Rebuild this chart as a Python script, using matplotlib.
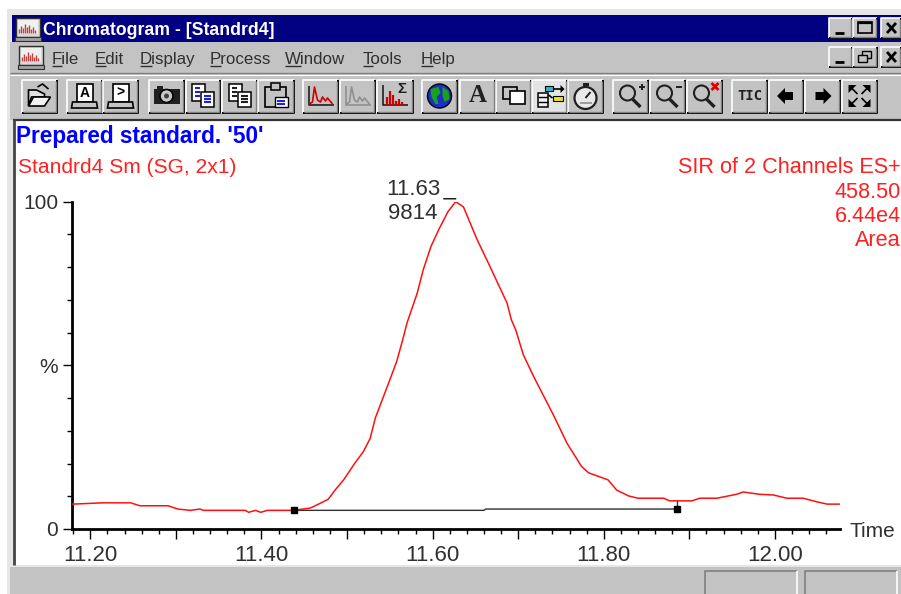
import matplotlib
matplotlib.use('Agg')
import matplotlib.pyplot as plt
from matplotlib.patches import Rectangle, Polygon, Circle

plt.rcParams['font.family'] = ['Liberation Sans', 'DejaVu Sans']

# peak trace
times = [11.179, 11.215, 11.247, 11.258, 11.291, 11.302, 11.317, 11.328, 11.332, 11.381,
         11.385, 11.393, 11.399, 11.407, 11.437, 11.457, 11.469, 11.478, 11.486, 11.496,
         11.509, 11.519, 11.527, 11.533, 11.541, 11.550, 11.558, 11.565, 11.570, 11.582,
         11.589, 11.598, 11.607, 11.618, 11.627, 11.636, 11.652, 11.665, 11.687, 11.692,
         11.697, 11.706, 11.718, 11.741, 11.757, 11.774, 11.782, 11.805, 11.815, 11.829,
         11.840, 11.870, 11.877, 11.903, 11.912, 11.932, 11.955, 11.963, 11.982, 11.998,
         12.014, 12.033, 12.049, 12.061, 12.075]
percent = [7.6, 8.0, 8.0, 7.1, 7.1, 6.1, 5.7, 6.1, 5.7, 5.7,
           5.1, 5.7, 5.1, 5.7, 5.7, 6.4, 7.9, 9.1, 11.9, 15.0,
           20.1, 23.6, 27.7, 33.9, 39.4, 45.6, 51.2, 57.8, 62.9, 72.1,
           79.2, 86.3, 91.4, 97.0, 100.0, 98.4, 88.4, 81.3, 69.0, 63.9,
           60.9, 53.2, 46.6, 34.9, 26.2, 19.1, 17.2, 15.0, 11.9, 10.1,
           9.4, 9.4, 8.6, 8.6, 9.4, 9.4, 10.6, 11.3, 10.6, 10.4,
           9.4, 9.4, 8.3, 7.6, 7.6]
base_t = [11.438, 11.660, 11.662, 11.885]
base_p = [5.7, 5.7, 6.1, 6.1]
marker_t = [11.438, 11.885]
marker_p = [5.7, 6.1]
x_major = [11.2, 11.3, 11.4, 11.5, 11.6, 11.7, 11.8, 11.9, 12.0]
x_labels = ['11.20', '', '11.40', '', '11.60', '', '11.80', '', '12.00']
x_minor = [11.18 + 0.02 * i for i in range(45)]
y_major = [0, 50, 100]
y_labels = ['0', '%', '100']
y_minor = [10, 20, 30, 40, 60, 70, 80, 90]
menu_names = ['File', 'Edit', 'Display', 'Process', 'Window', 'Tools', 'Help']
menu_x = [52, 95, 140, 210, 285, 363, 421]
right_labels = ['SIR of 2 Channels ES+', '458.50', '6.44e4', 'Area']
right_y = [173, 198, 222, 246]

GRAY = '#c3c3c3'
fig = plt.figure(figsize=(9.01, 5.94), dpi=100)
bg = fig.add_axes([0, 0, 1, 1])
bg.set_xlim(0, 901)
bg.set_ylim(594, 0)
bg.axis('off')


def rect(x0, y0, x1, y1, fc='none', ec='none', lw=0, z=2):
    bg.add_patch(Rectangle((x0, y0), x1 - x0, y1 - y0, fc=fc, ec=ec, lw=lw, zorder=z))


def line(xs, ys, c='black', lw=1.0, z=3):
    bg.plot(xs, ys, color=c, lw=lw, zorder=z, solid_capstyle='butt')


def poly(pts, fc='black', ec='none', lw=0, z=3):
    bg.add_patch(Polygon(pts, closed=True, fc=fc, ec=ec, lw=lw, zorder=z))


def button(x0, y0, x1, y1, pressed=False):
    rect(x0, y0, x1, y1, fc='#e4e4e4' if pressed else GRAY)
    line([x0, x0, x1], [y1, y0, y0], 'white', 1.2)
    line([x0, x1, x1], [y1, y1, y0], 'black', 1.4)
    line([x0 + 1, x1 - 1, x1 - 1], [y1 - 1, y1 - 1, y0 + 1], '#808080', 1.0)


# window frame
rect(7, 9, 901, 594, fc='#e6e6e6', z=1)
rect(10, 42, 901, 120, fc=GRAY, z=1)
rect(12, 15, 901, 42, fc='#000080', z=2)
line([10, 901], [73, 73], '#808080', 1.0)
line([10, 901], [74.5, 74.5], 'white', 0.8)
rect(15, 120, 901, 565, fc='white', z=1)
line([13, 901], [119.5, 119.5], '#333333', 1.6)
line([13.5, 13.5], [119, 565], '#444444', 2.0)
rect(10, 567, 901, 594, fc=GRAY, z=1)
for x0, x1 in [(705, 797), (805, 897)]:
    line([x0, x0, x1], [594, 571, 571], '#808080', 1.2)
    line([x1, x1], [571, 594], 'white', 1.2)


def small_monitor(x0, y0):
    rect(x0, y0, x0 + 24, y0 + 19, fc='#d8d8d8', ec='#303030', lw=1.0)
    rect(x0 + 2, y0 + 2, x0 + 22, y0 + 16, fc='#f0f0f0')
    for i, h in enumerate([4, 7, 5, 9, 6, 8, 4, 6, 3]):
        line([x0 + 3 + i * 2] * 2, [y0 + 15, y0 + 15 - h], '#c04040', 1.0)
    rect(x0 - 1, y0 + 19, x0 + 25, y0 + 23, fc='#a0a0a0', ec='#303030', lw=0.8)


small_monitor(16, 18)
small_monitor(19, 46)
bg.text(43, 35, 'Chromatogram - [Standrd4]', color='white', fontsize=12.7, fontweight='bold', va='baseline', zorder=5)

for x0, x1, y0, y1, kind in [(829, 852, 18, 38, 'min'), (853, 877, 18, 38, 'max'), (881, 901, 18, 38, 'x'),
                             (829, 852, 47, 67, 'min'), (853, 877, 47, 67, 'rest'), (881, 901, 47, 67, 'x')]:
    button(x0, y0, x1, y1)
    if kind == 'min':
        line([x0 + 6, x0 + 15], [y1 - 5, y1 - 5], 'black', 2.0, z=4)
    elif kind == 'max':
        rect(x0 + 5, y0 + 4, x0 + 19, y1 - 5, ec='black', lw=1.2, z=4)
        line([x0 + 5, x0 + 19], [y0 + 5, y0 + 5], 'black', 1.6, z=4)
    elif kind == 'rest':
        rect(x0 + 9, y0 + 4, x0 + 18, y0 + 11, fc=GRAY, ec='black', lw=1.0, z=4)
        rect(x0 + 5, y0 + 8, x0 + 14, y0 + 15, fc=GRAY, ec='black', lw=1.0, z=5)
    else:
        line([x0 + 6, x0 + 15], [y0 + 5, y1 - 5], 'black', 2.0, z=4)
        line([x0 + 6, x0 + 15], [y1 - 5, y0 + 5], 'black', 2.0, z=4)

renderer = fig.canvas.get_renderer()
for name, mx in zip(menu_names, menu_x):
    bg.text(mx, 64, name, color='#303030', fontsize=12.2, va='baseline', zorder=5)
    probe = bg.text(mx, 64, name[0], fontsize=12.2, va='baseline')
    w = probe.get_window_extent(renderer).width
    probe.remove()
    line([mx, mx + w], [66, 66], '#303030', 1.0, z=5)

# toolbar
buttons = [(22, 57), (67, 102), (103, 138), (149, 184), (186, 220), (222, 257), (258, 294),
           (303, 338), (340, 375), (377, 413), (422, 457), (460, 495), (496, 531), (532, 567),
           (568, 603), (613, 648), (650, 685), (687, 722), (732, 767), (769, 803), (805, 840), (842, 877)]
for i, (x0, x1) in enumerate(buttons):
    button(x0, 80, x1, 113, pressed=(i == 13))
centers = [(a + b) / 2 for a, b in buttons]
cy = 96

# open folder
c = centers[0]
poly([(c - 11, cy + 10), (c - 11, cy - 6), (c - 3, cy - 6), (c + 5, cy - 2), (c + 5, cy + 1), (c - 8, cy + 1)], fc='#e0e0e0', ec='black', lw=1.2)
poly([(c - 11, cy + 10), (c - 6, cy + 1), (c + 11, cy + 1), (c + 5, cy + 10)], fc='#f2f2f2', ec='black', lw=1.2)
line([c - 2, c + 3, c + 9], [cy - 9, cy - 12, cy - 7], 'black', 1.2)

# report printers
for idx, ch in [(1, 'A'), (2, '>')]:
    c = centers[idx]
    rect(c - 8, cy - 12, c + 8, cy + 6, fc='white', ec='black', lw=1.2, z=3)
    bg.text(c, cy - 3, ch, fontsize=10, fontweight='bold', ha='center', va='center', zorder=5)
    poly([(c - 12, cy + 6), (c + 12, cy + 6), (c + 13, cy + 12), (c - 13, cy + 12)], fc=GRAY, ec='black', lw=1.2)

# camera
c = centers[3]
rect(c - 13, cy - 7, c + 13, cy + 8, fc='#202020', z=3)
rect(c - 10, cy - 10, c - 4, cy - 7, fc='#202020', z=3)
bg.add_patch(Circle((c, cy), 6.5, fc='#c8c8c8', ec='black', lw=1.2, zorder=4))
bg.add_patch(Circle((c, cy), 2.5, fc='#404040', zorder=5))

# copy icons
for idx, col in [(4, '#2020e0'), (5, '#202020')]:
    c = centers[idx]
    rect(c - 11, cy - 12, c + 2, cy + 5, fc='white', ec='black', lw=1.1, z=3)
    rect(c - 2, cy - 4, c + 11, cy + 11, fc='white', ec='black', lw=1.1, z=4)
    for dy in [-8, -4, 0]:
        line([c - 8, c - 3], [cy + dy, cy + dy], col, 1.5)
    for dy in [0, 3, 6]:
        line([c + 1, c + 8], [cy + dy, cy + dy], col, 1.5, z=5)

# paste
c = centers[6]
rect(c - 11, cy - 9, c + 10, cy + 11, fc=GRAY, ec='black', lw=1.2, z=3)
rect(c - 5, cy - 13, c + 4, cy - 6, fc=GRAY, ec='black', lw=1.1, z=4)
rect(c - 1, cy + 1, c + 12, cy + 11, fc='white', ec='black', lw=1.0, z=4)
line([c + 1, c + 9], [cy + 5, cy + 5], '#2020e0', 1.5, z=5)
line([c + 1, c + 9], [cy + 8, cy + 8], '#2020e0', 1.5, z=5)

# trace icons
for idx, col, ax_col in [(7, '#d00000', '#202020'), (8, '#f4f4f4', '#909090')]:
    c = centers[idx]
    line([c - 12, c - 12, c + 13], [cy - 10, cy + 9, cy + 9], ax_col, 1.2)
    line([c - 11, c - 8, c - 6, c - 3, c, c + 2, c + 5, c + 7, c + 12], [cy + 8, cy + 6, cy - 9, cy + 4, cy + 6, cy + 1, cy + 5, cy + 2, cy + 8], col if idx == 7 else '#909090', 1.2)
c = centers[9]
line([c - 12, c - 12, c + 13], [cy - 11, cy + 9, cy + 9], '#202020', 1.2)
for dx, h in [(-8, 8), (-5, 14), (-2, 10), (1, 4), (4, 6), (7, 3)]:
    line([c + dx, c + dx], [cy + 9, cy + 9 - h], '#d00000', 1.6)
bg.text(c + 7, cy - 7, '\u03a3', fontsize=11, fontweight='bold', ha='center', va='center', color='#202020', zorder=5)

# globe
c = centers[10]
bg.add_patch(Circle((c, cy), 12, fc='#1c30c8', ec='black', lw=1.0, zorder=3))
poly([(c - 9, cy - 7), (c - 1, cy - 9), (c + 1, cy - 3), (c - 3, cy + 1), (c - 1, cy + 8), (c - 4, cy + 8), (c - 8, cy + 1)], fc='#18a020', z=4)
poly([(c + 3, cy - 9), (c + 9, cy - 5), (c + 10, cy + 3), (c + 5, cy + 6), (c + 3, cy)], fc='#18a020', z=4)

bg.text(centers[11], cy - 1, 'A', family='Liberation Serif', fontsize=18, fontweight='bold', ha='center', va='center', color='#202020', zorder=5)

# overlay boxes
c = centers[12]
rect(c - 11, cy - 9, c + 3, cy + 3, fc=GRAY, ec='black', lw=1.2, z=3)
rect(c - 4, cy - 5, c + 11, cy + 8, fc='white', ec='black', lw=1.2, z=4)

# tree icon, pressed
c = centers[13]
rect(c - 12, cy - 3, c - 2, cy + 11, fc='#f0f0f0', ec='black', lw=1.1, z=3)
line([c - 12, c - 2], [cy + 1, cy + 1], 'black', 1.0)
line([c - 12, c - 2], [cy + 6, cy + 6], 'black', 1.0)
rect(c - 5, cy - 10, c + 3, cy - 5, fc='#20c0d0', ec='black', lw=0.8, z=4)
rect(c + 3, cy + 0, c + 13, cy + 5, fc='#f0e020', ec='black', lw=0.8, z=4)
line([c + 3, c + 11], [cy - 7, cy - 7], 'black', 1.2)
poly([(c + 11, cy - 11), (c + 15, cy - 7), (c + 11, cy - 3)], fc='black')
line([c - 1, c + 3], [cy - 1, cy + 2], 'black', 1.2)

# stopwatch
c = centers[14]
bg.add_patch(Circle((c, cy + 2), 11, fc='#e8e8e8', ec='#202020', lw=1.6, zorder=3))
rect(c - 3, cy - 13, c + 3, cy - 10, fc='#202020', z=4)
line([c, c + 5], [cy + 2, cy - 4], '#202020', 1.4, z=4)
line([c - 6, c + 6], [cy + 7, cy + 7], '#909090', 1.2, z=4)

# zoom icons
for idx, kind in [(15, '+'), (16, '-'), (17, 'x')]:
    c = centers[idx]
    bg.add_patch(Circle((c - 3, cy - 3), 7.5, fc='none', ec='#202020', lw=1.5, zorder=4))
    line([c + 2, c + 10], [cy + 3, cy + 11], '#202020', 2.4)
    if kind == '+':
        line([c + 8, c + 14], [cy - 9, cy - 9], '#202020', 1.4)
        line([c + 11, c + 11], [cy - 12, cy - 6], '#202020', 1.4)
    elif kind == '-':
        line([c + 8, c + 14], [cy - 9, cy - 9], '#202020', 1.4)
    else:
        line([c + 7, c + 14], [cy - 13, cy - 6], '#e00000', 2.0)
        line([c + 7, c + 14], [cy - 6, cy - 13], '#e00000', 2.0)

bg.text(centers[18], cy, 'TIC', family='DejaVu Sans Mono', fontsize=10, fontweight='bold', ha='center', va='center', color='#202020', zorder=5)

# arrows
c = centers[19]
poly([(c - 9, cy), (c - 1, cy - 8), (c - 1, cy - 4), (c + 7, cy - 4), (c + 7, cy + 4), (c - 1, cy + 4), (c - 1, cy + 8)])
c = centers[20]
poly([(c + 9, cy), (c + 1, cy - 8), (c + 1, cy - 4), (c - 7, cy - 4), (c - 7, cy + 4), (c + 1, cy + 4), (c + 1, cy + 8)])

# expand
c = centers[21]
for sx, sy in [(-1, -1), (1, -1), (-1, 1), (1, 1)]:
    poly([(c + sx * 11, cy + sy * 11), (c + sx * 3, cy + sy * 11), (c + sx * 11, cy + sy * 3)])
    line([c + sx * 8, c + sx * 2], [cy + sy * 8, cy + sy * 2], 'black', 1.2)

# header text
bg.text(16, 143, "Prepared standard. '50'", color='#0000ff', fontsize=16.3, fontweight='bold', va='baseline', zorder=5)
bg.text(18, 173, 'Standrd4 Sm (SG, 2x1)', color='#ff2020', fontsize=15.1, va='baseline', zorder=5)
for lab, ypx in zip(right_labels, right_y):
    bg.text(901, ypx, lab, color='#ff2020', fontsize=15.6, ha='right', va='baseline', zorder=5)

# the chart itself
ax = fig.add_axes([71.5 / 901, (594 - 529) / 594, (840 - 71.5) / 901, (529 - 201.7) / 594])
ax.patch.set_alpha(0)
ax.set_xlim(11.178, 12.076)
ax.set_ylim(0, 100)
for s in ['top', 'right']:
    ax.spines[s].set_visible(False)
for s in ['left', 'bottom']:
    ax.spines[s].set_linewidth(2.0)
ax.plot(base_t, base_p, color='#303030', lw=1.0, zorder=2)
ax.plot(times, percent, color='#ff1010', lw=1.1, zorder=3)
ax.plot(marker_t, marker_p, ls='none', marker='s', ms=5, color='black', zorder=4, clip_on=False)
ax.plot([marker_t[1], marker_t[1]], [marker_p[1], 8.6], color='#303030', lw=1.0, zorder=2)
ax.set_xticks(x_major)
ax.set_xticklabels(x_labels)
ax.set_xticks(x_minor, minor=True)
ax.set_yticks(y_major)
ax.set_yticklabels(y_labels)
ax.set_yticks(y_minor, minor=True)
ax.tick_params(axis='x', which='major', length=7.2, width=1.0, pad=4, labelsize=16, labelcolor='#303030')
ax.tick_params(axis='x', which='minor', length=3.6, width=1.0)
ax.tick_params(axis='y', which='major', length=6.5, width=1.0, pad=3, labelsize=15, labelcolor='#303030')
ax.tick_params(axis='y', which='minor', length=3.6, width=1.0)

peak_t = times[percent.index(max(percent))]
ax.annotate('11.63', xy=(peak_t, 100), xytext=(-11, 8.5), textcoords='offset points', ha='right', va='center', fontsize=16, color='#303030')
ax.annotate('9814', xy=(peak_t, 100), xytext=(-13, -8.5), textcoords='offset points', ha='right', va='center', fontsize=16, color='#303030')
ax.annotate('', xy=(peak_t, 100.9), xytext=(peak_t - 0.014, 100.9), annotation_clip=False,
            arrowprops=dict(arrowstyle='-', color='#202020', lw=1.1, shrinkA=0, shrinkB=0))
ax.annotate('Time', xy=(1, 0), xycoords='axes fraction', xytext=(7, -2), textcoords='offset points', ha='left', va='center', fontsize=15, color='#303030')

fig.savefig('out.png', dpi=100)
